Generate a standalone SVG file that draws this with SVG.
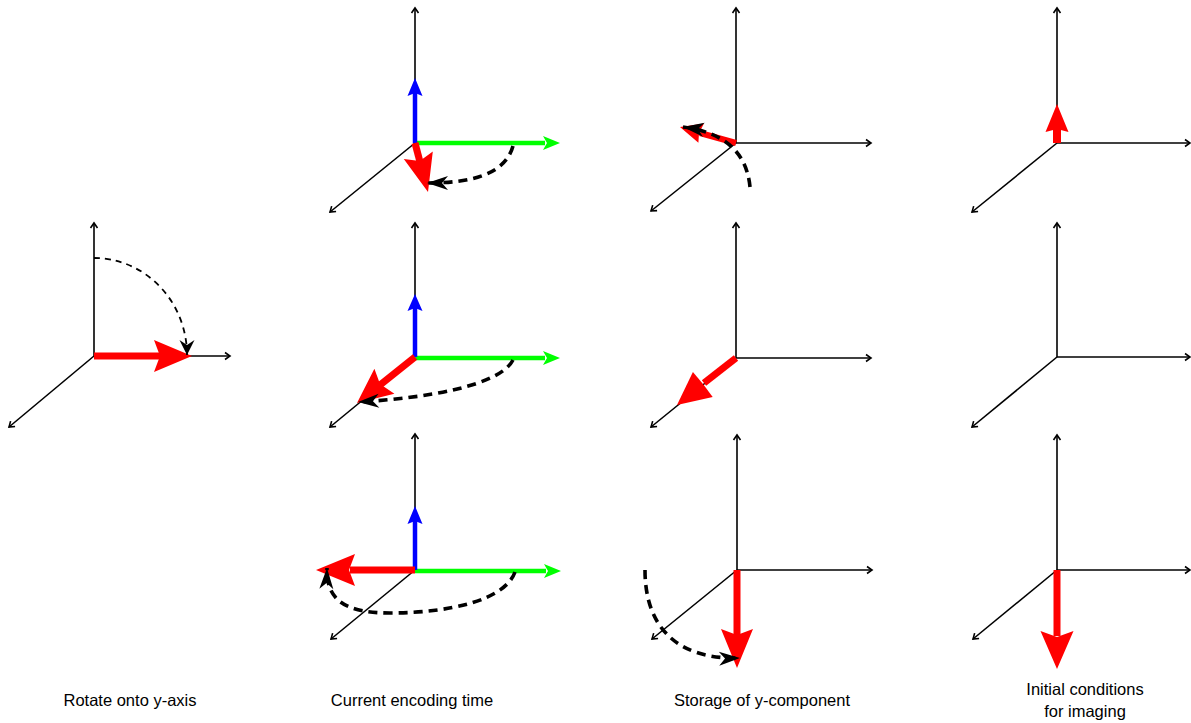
<svg xmlns="http://www.w3.org/2000/svg" width="1191" height="723" viewBox="0 0 1191 723">
<defs>
<style>
.ax{stroke:#000;stroke-width:1.6;fill:none;marker-end:url(#ah)}
.red{stroke:#f00;stroke-width:7;fill:none}
.redh{fill:#f00;stroke:none}
.gr{stroke:#0f0;stroke-width:4.5;fill:none}
.grh{fill:#0f0}
.bl{stroke:#00f;stroke-width:4.5;fill:none}
.blh{fill:#00f}
.dthin{stroke:#000;stroke-width:1.8;fill:none;stroke-dasharray:6 5;marker-end:url(#dh1)}
.dthick{stroke:#000;stroke-width:3.6;fill:none;stroke-dasharray:9 6;marker-end:url(#dh2)}
.lbl{font-family:"Liberation Sans",Arial,sans-serif;font-size:16.5px;fill:#000;text-anchor:middle}
</style>
<marker id="ah" markerUnits="userSpaceOnUse" viewBox="-7 -5 8 10" refX="0" refY="0" markerWidth="8" markerHeight="10" orient="auto" overflow="visible">
<path d="M-5,-3.5 L0,0 L-5,3.5" fill="none" stroke="#000" stroke-width="1.6"/>
</marker>
<marker id="dh1" markerUnits="userSpaceOnUse" viewBox="-16 -8 17 16" refX="0" refY="0" markerWidth="17" markerHeight="16" orient="auto" overflow="visible">
<path d="M0,0 L-15,-7.5 L-10,0 L-15,7.5 Z" fill="#000"/>
</marker>
<marker id="dh2" markerUnits="userSpaceOnUse" viewBox="-24 -9 25 18" refX="0" refY="0" markerWidth="25" markerHeight="18" orient="auto" overflow="visible">
<path d="M0,0 L-21,-7 L-15,0 L-21,7 Z" fill="#000"/>
</marker>
</defs>

<g id="panel-rotate">
<line class="ax" x1="94" y1="356" x2="94" y2="223"/>
<line class="ax" x1="94" y1="356" x2="230" y2="356"/>
<line class="ax" x1="94" y1="356" x2="9" y2="427"/>
</g>

<g id="panel-enc-1">
<line class="ax" x1="415" y1="143" x2="415" y2="8"/>
<line class="ax" x1="415" y1="143" x2="330" y2="212"/>
</g>
<g id="panel-enc-2">
<line class="ax" x1="415" y1="357" x2="415" y2="223"/>
<line class="ax" x1="415" y1="357" x2="330" y2="427"/>
</g>
<g id="panel-enc-3">
<line class="ax" x1="415" y1="570" x2="415" y2="434"/>
<line class="ax" x1="415" y1="570" x2="331" y2="639"/>
</g>

<g id="panel-store-1">
<line class="ax" x1="736" y1="143" x2="736" y2="8"/>
<line class="ax" x1="736" y1="143" x2="871" y2="143"/>
<line class="ax" x1="736" y1="143" x2="651" y2="211"/>
</g>
<g id="panel-store-2">
<line class="ax" x1="736" y1="358" x2="736" y2="223"/>
<line class="ax" x1="736" y1="358" x2="871" y2="358"/>
<line class="ax" x1="736" y1="358" x2="651" y2="427"/>
</g>
<g id="panel-store-3">
<line class="ax" x1="737" y1="570" x2="737" y2="435"/>
<line class="ax" x1="737" y1="570" x2="872" y2="570"/>
<line class="ax" x1="737" y1="570" x2="652" y2="639"/>
</g>

<g id="panel-init-1">
<line class="ax" x1="1057" y1="143" x2="1057" y2="8"/>
<line class="ax" x1="1057" y1="143" x2="1190" y2="143"/>
<line class="ax" x1="1057" y1="143" x2="972" y2="212"/>
</g>
<g id="panel-init-2">
<line class="ax" x1="1057" y1="357" x2="1057" y2="223"/>
<line class="ax" x1="1057" y1="357" x2="1190" y2="357"/>
<line class="ax" x1="1057" y1="357" x2="972" y2="427"/>
</g>
<g id="panel-init-3">
<line class="ax" x1="1057" y1="570" x2="1057" y2="435"/>
<line class="ax" x1="1057" y1="570" x2="1190" y2="570"/>
<line class="ax" x1="1057" y1="570" x2="973" y2="639"/>
</g>

<g id="vectors">
<line class="red" x1="94" y1="356" x2="163" y2="356"/>
<polygon class="redh" points="192,356 154,340 160,356 154,372"/>
<line class="gr" x1="415" y1="143" x2="545" y2="143"/>
<polygon class="grh" points="560,143 543,136 547,143 543,150"/>
<line class="bl" x1="415" y1="143" x2="415" y2="92"/>
<polygon class="blh" points="415,78 407.5,96 415,93 422.5,96"/>
<line class="red" x1="415" y1="143" x2="420" y2="162"/>
<polygon class="redh" points="428,192 432.8,151.5 419.8,161.1 403.8,159.1"/>
<line class="gr" x1="415" y1="358" x2="545" y2="358"/>
<polygon class="grh" points="560,358 543,351 547,358 543,365"/>
<line class="bl" x1="415" y1="357" x2="415" y2="307"/>
<polygon class="blh" points="415,294 407.5,311 415,308 422.5,311"/>
<line class="red" x1="415" y1="357" x2="380" y2="385"/>
<polygon class="redh" points="357,403 394.4,393.7 380,384 374.4,368.7"/>
<line class="gr" x1="415" y1="571" x2="546" y2="571"/>
<polygon class="grh" points="561,571 544,564 548,571 544,578"/>
<line class="bl" x1="415" y1="570" x2="415" y2="520"/>
<polygon class="blh" points="415,506 407.5,524 415,521 422.5,524"/>
<line class="red" x1="415" y1="570" x2="350" y2="570"/>
<polygon class="redh" points="316,570 355,554 349,570 355,586"/>
<line class="red" x1="736" y1="143" x2="700" y2="133" style="stroke-width:6"/>
<polygon class="redh" points="680,127 704,123.5 699,133 698.4,142.7"/>
<line class="red" x1="736" y1="358" x2="704" y2="383"/>
<polygon class="redh" points="677,405 712.7,396.9 703,384 692.9,371.9"/>
<line class="red" x1="737" y1="570" x2="737" y2="636"/>
<polygon class="redh" points="737,668 721,629 737,635 753,629"/>
<line class="red" x1="1057" y1="143" x2="1057" y2="128" style="stroke-width:8"/>
<polygon class="redh" points="1057,104 1045.5,132 1057,129 1068.5,132"/>
<line class="red" x1="1057" y1="570" x2="1057" y2="636"/>
<polygon class="redh" points="1057,669 1040.5,631 1057,637 1073.5,631"/>
</g>

<g id="connectors">
<path class="dthin" d="M94,258 A93,97 0 0 1 187,355"/>
<path class="dthick" d="M513,146 C505,175 470,183 427,183"/>
<path class="dthick" d="M513,360 C500,385 430,398 358,402"/>
<path class="dthick" d="M515,572 C505,600 450,613 390,613 C345,613 326,600 327,568"/>
<path class="dthick" d="M750,187 Q745,135 683,127"/>
<path class="dthick" d="M645,570 C645,628 678,660 740,658"/>
</g>

<g id="labels">
<text class="lbl" x="130" y="706">Rotate onto y-axis</text>
<text class="lbl" x="412" y="706">Current encoding time</text>
<text class="lbl" x="762" y="706">Storage of y-component</text>
<text class="lbl" x="1085" y="695">Initial conditions</text>
<text class="lbl" x="1085" y="717">for imaging</text>
</g>
</svg>
